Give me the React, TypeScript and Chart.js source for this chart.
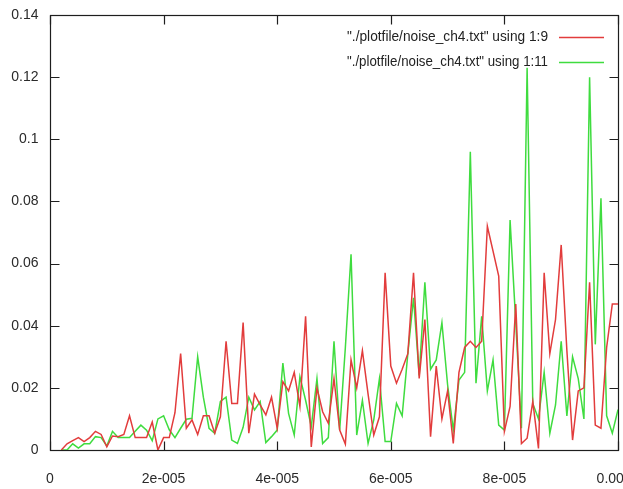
import { useEffect, useRef } from "react";
import { Chart, registerables } from "chart.js";

Chart.register(...registerables);

// Noise samples from noise_ch4.txt, one sample per microsecond starting at 2 us
const SAMPLE_STEP = 1e-6;
const FIRST_SAMPLE = 2;

// column 9
const col9 = [
  0, 0.002, 0.003, 0.004, 0.0027, 0.004, 0.006, 0.005, 0.001, 0.0045,
  0.0043, 0.005, 0.011, 0.004, 0.004, 0.004, 0.009, 0, 0.004, 0.004,
  0.012, 0.031, 0.007, 0.0097, 0.005, 0.011, 0.011, 0.0054, 0.0107, 0.035,
  0.015, 0.015, 0.041, 0.0054, 0.018, 0.0145, 0.0113, 0.017, 0.007, 0.022,
  0.019, 0.025, 0.014, 0.043, 0.001, 0.02, 0.0123, 0.0086, 0.023, 0.0064,
  0.0019, 0.029, 0.02, 0.032, 0.018, 0.0048, 0.0107, 0.057, 0.027, 0.0215,
  0.026, 0.031, 0.057, 0.023, 0.042, 0.0043, 0.027, 0.01, 0.019, 0.0021,
  0.025, 0.033, 0.035, 0.033, 0.035, 0.072, 0.064, 0.056, 0.006, 0.014,
  0.047, 0.0021, 0.0038, 0.0156, 0.0005, 0.057, 0.031, 0.042, 0.066, 0.032,
  0.0032, 0.019, 0.02, 0.054, 0.008, 0.007, 0.033, 0.047, 0.047,
];

// column 11
const col11 = [
  0, 0, 0.002, 0.0006, 0.002, 0.002, 0.0043, 0.004, 0.0013, 0.006,
  0.004, 0.004, 0.004, 0.006, 0.008, 0.0064, 0.003, 0.01, 0.011, 0.0065,
  0.004, 0.007, 0.0099, 0.0102, 0.03, 0.017, 0.007, 0.0054, 0.0156, 0.017,
  0.0032, 0.0021, 0.0073, 0.017, 0.0129, 0.0156, 0.0024, 0.0043, 0.0064, 0.028,
  0.0118, 0.0048, 0.0236, 0.016, 0.0075, 0.023, 0.0021, 0.004, 0.035, 0.0064,
  0.033, 0.063, 0.0048, 0.016, 0.0021, 0.0097, 0.023, 0.0027, 0.0027, 0.015,
  0.011, 0.031, 0.049, 0.024, 0.054, 0.026, 0.029, 0.041, 0.021, 0.0064,
  0.0225, 0.025, 0.096, 0.0215, 0.043, 0.019, 0.029, 0.008, 0.0064, 0.074,
  0.041, 0.007, 0.123, 0.015, 0.01, 0.025, 0.0054, 0.0145, 0.035, 0.011,
  0.03, 0.023, 0.01, 0.12, 0.034, 0.081, 0.011, 0.0054, 0.013,
];

const X_TICKS = [0, 2e-5, 4e-5, 6e-5, 8e-5, 1e-4];
const X_TICK_LABELS = ["0", "2e-005", "4e-005", "6e-005", "8e-005", "0.0001"];
const Y_TICKS = [0, 0.02, 0.04, 0.06, 0.08, 0.1, 0.12, 0.14];
const Y_TICK_LABELS = ["0", "0.02", "0.04", "0.06", "0.08", "0.1", "0.12", "0.14"];

const SERIES_LABELS = [
  '"./plotfile/noise_ch4.txt" using 1:9',
  '"./plotfile/noise_ch4.txt" using 1:11',
];
const SERIES_COLORS = ["#e23c3c", "#3fdc3f"];

const toPoints = (values: number[]) =>
  values.map((y, i) => ({ x: (FIRST_SAMPLE + i) * SAMPLE_STEP, y }));

const FONT = '14px "Liberation Sans", Arial, sans-serif';
const TICK_LEN = 9;

// gnuplot-like border with inward mirrored ticks, tick labels and key
const gnuplotFrame = {
  id: "gnuplotFrame",
  beforeDatasetsDraw(chart: any) {
    const { ctx, chartArea: a, scales } = chart;
    const left = Math.round(a.left) + 0.5;
    const right = Math.round(a.right) + 0.5;
    const top = Math.round(a.top) + 0.5;
    const bottom = Math.round(a.bottom) + 0.5;
    ctx.save();
    ctx.strokeStyle = "#1e1e1e";
    ctx.lineWidth = 1.2;
    ctx.strokeRect(left, top, right - left, bottom - top);
    ctx.beginPath();
    X_TICKS.forEach((v) => {
      const x = Math.round(scales.x.getPixelForValue(v)) + 0.5;
      ctx.moveTo(x, bottom);
      ctx.lineTo(x, bottom - TICK_LEN);
      ctx.moveTo(x, top);
      ctx.lineTo(x, top + TICK_LEN);
    });
    Y_TICKS.forEach((v) => {
      const y = Math.round(scales.y.getPixelForValue(v)) + 0.5;
      ctx.moveTo(left, y);
      ctx.lineTo(left + TICK_LEN, y);
      ctx.moveTo(right, y);
      ctx.lineTo(right - TICK_LEN, y);
    });
    ctx.stroke();

    ctx.fillStyle = "#2a2a2a";
    ctx.font = FONT;
    ctx.textBaseline = "middle";
    ctx.textAlign = "right";
    Y_TICKS.forEach((v, i) => {
      ctx.fillText(Y_TICK_LABELS[i], left - 12, scales.y.getPixelForValue(v));
    });
    ctx.textAlign = "center";
    X_TICKS.forEach((v, i) => {
      ctx.fillText(X_TICK_LABELS[i], scales.x.getPixelForValue(v), bottom + 29);
    });
    ctx.restore();
  },
  afterDraw(chart: any) {
    const { ctx } = chart;
    const textRight = 548;
    const lineStart = 559;
    const lineEnd = 604;
    const rows = [37, 62];
    ctx.save();
    ctx.font = FONT;
    ctx.textBaseline = "middle";
    ctx.textAlign = "right";
    chart.data.datasets.forEach((ds: any, i: number) => {
      const y = rows[i];
      const w = ctx.measureText(ds.label).width;
      const k = Math.min(1, 201 / w);
      ctx.save();
      ctx.translate(textRight, y);
      ctx.scale(k, 1);
      ctx.fillStyle = "#222";
      ctx.fillText(ds.label, 0, 0);
      ctx.restore();
      ctx.beginPath();
      ctx.strokeStyle = ds.borderColor;
      ctx.lineWidth = 1.6;
      ctx.moveTo(lineStart, y + 0.5);
      ctx.lineTo(lineEnd, y + 0.5);
      ctx.stroke();
    });
    ctx.restore();
  },
};

export default function App() {
  const canvasRef = useRef<HTMLCanvasElement | null>(null);

  useEffect(() => {
    if (!canvasRef.current) return;
    const chart = new Chart(canvasRef.current, {
      type: "line",
      data: {
        datasets: [
          {
            label: SERIES_LABELS[0],
            data: toPoints(col9),
            borderColor: SERIES_COLORS[0],
            borderWidth: 1.5,
            pointRadius: 0,
            tension: 0,
            fill: false,
          },
          {
            label: SERIES_LABELS[1],
            data: toPoints(col11),
            borderColor: SERIES_COLORS[1],
            borderWidth: 1.5,
            pointRadius: 0,
            tension: 0,
            fill: false,
          },
        ],
      },
      options: {
        animation: false,
        responsive: false,
        devicePixelRatio: 1,
        layout: { padding: { left: 50, top: 15, right: 5, bottom: 39 } },
        plugins: { legend: { display: false }, tooltip: { enabled: false } },
        scales: {
          x: { type: "linear", min: 0, max: 1e-4, display: false },
          y: { type: "linear", min: 0, max: 0.14, display: false },
        },
      },
      plugins: [gnuplotFrame],
    });
    return () => chart.destroy();
  }, []);

  return (
    <div style={{ position: "fixed", left: 0, top: 0, width: 623, height: 489, background: "#fff" }}>
      <canvas ref={canvasRef} width={623} height={489} />
    </div>
  );
}
